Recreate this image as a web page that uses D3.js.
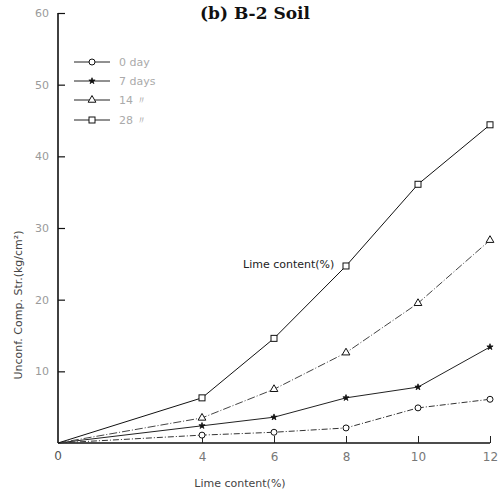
<!DOCTYPE html>
<html>
<head>
<meta charset="utf-8">
<script src="https://cdn.jsdelivr.net/npm/d3@7"></script>
<style>
  html, body { margin: 0; padding: 0; background: #fff; }
  svg { display: block; }
</style>
</head>
<body>
<svg id="chart" width="502" height="496"></svg>
<script>
// Lime content (%) on the x axis
const limeContent = [0, 4, 6, 8, 10, 12];
// Unconfined compressive strength (kg/cm²) for each curing period
const day0  = [0, 1.1, 1.5, 2.1, 4.9, 6.1];
const day7  = [0, 2.4, 3.6, 6.3, 7.8, 13.4];
const day14 = [0, 3.5, 7.5, 12.6, 19.5, 28.3];
const day28 = [0, 6.3, 14.6, 24.7, 36.1, 44.4];
const seriesNames = ["0 day", "7 days", "14 〃", "28 〃"];
const xTicks = [4, 6, 8, 10, 12];
const yTicks = [10, 20, 30, 40, 50, 60];

const svg = d3.select("#chart");
const x = d3.scaleLinear().domain([0, 12]).range([58, 490]);
const y = d3.scaleLinear().domain([0, 60]).range([443, 13]);

const series = [
  { name: seriesNames[0], values: day0,  marker: "circle",   stroke: "#333", dash: "6,2,1,2" },
  { name: seriesNames[1], values: day7,  marker: "star",     stroke: "#222", dash: null },
  { name: seriesNames[2], values: day14, marker: "triangle", stroke: "#444", dash: "8,2,1,2" },
  { name: seriesNames[3], values: day28, marker: "square",   stroke: "#111", dash: null }
];

// Axes
const yAxis = d3.axisRight(y).tickValues(yTicks).tickSize(7).tickFormat(d3.format("d"));
const gy = svg.append("g").attr("transform", `translate(${x(0)},0)`).call(yAxis);
gy.select(".domain").attr("stroke", "#111").attr("stroke-width", 1.6).attr("d", `M0,${y(0)}V${y(60)}`);
gy.selectAll(".tick line").attr("stroke", "#111").attr("stroke-width", 1.2);
gy.selectAll(".tick text")
  .attr("x", -9).attr("text-anchor", "end")
  .attr("fill", "#9a9a9a")
  .style("font-family", "'DejaVu Sans', sans-serif").style("font-size", "11px");

const xAxis = d3.axisTop(x).tickValues(xTicks).tickSize(7).tickFormat(d3.format("d"));
const gx = svg.append("g").attr("transform", `translate(0,${y(0)})`).call(xAxis);
gx.select(".domain").attr("stroke", "#111").attr("stroke-width", 1.4).attr("d", `M${x(0)},0H${x(12)}`);
gx.selectAll(".tick line").attr("stroke", "#222").attr("stroke-width", 1);
gx.selectAll(".tick text")
  .attr("y", 18).attr("dy", null)
  .attr("fill", "#777")
  .style("font-family", "'DejaVu Sans', sans-serif").style("font-size", "12px");

svg.append("text").attr("x", x(0)).attr("y", y(0) + 17).attr("text-anchor", "middle")
  .attr("fill", "#555").style("font-family", "'DejaVu Sans', sans-serif").style("font-size", "12px")
  .text("0");

// Lines
const line = d3.line().x((d, i) => x(limeContent[i])).y(d => y(d));
series.forEach(s => {
  svg.append("path").datum(s.values).attr("d", line)
    .attr("fill", "none").attr("stroke", s.stroke).attr("stroke-width", 1)
    .attr("stroke-dasharray", s.dash);
});

// Markers
function drawMarker(g, type, cx, cy) {
  if (type === "circle") {
    g.append("circle").attr("cx", cx).attr("cy", cy).attr("r", 3)
      .attr("fill", "#fff").attr("stroke", "#111").attr("stroke-width", 1);
  } else if (type === "square") {
    g.append("rect").attr("x", cx - 3).attr("y", cy - 3).attr("width", 6).attr("height", 6)
      .attr("fill", "#fff").attr("stroke", "#111").attr("stroke-width", 1);
  } else if (type === "triangle") {
    g.append("path").attr("d", d3.symbol(d3.symbolTriangle, 26)()).attr("transform", `translate(${cx},${cy})`)
      .attr("fill", "#fff").attr("stroke", "#111").attr("stroke-width", 1);
  } else {
    g.append("path").attr("d", d3.symbol(d3.symbolStar, 12)()).attr("transform", `translate(${cx},${cy})`)
      .attr("fill", "#111").attr("stroke", "#111").attr("stroke-width", 0.8);
  }
}
series.forEach(s => {
  const g = svg.append("g");
  s.values.forEach((v, i) => { if (i > 0) drawMarker(g, s.marker, x(limeContent[i]), y(v)); });
});

// Legend
const legendY = [62, 81, 100, 120];
series.forEach((s, i) => {
  const ly = legendY[i];
  svg.append("line").attr("x1", 74).attr("x2", 110).attr("y1", ly).attr("y2", ly)
    .attr("stroke", "#222").attr("stroke-width", 1);
  drawMarker(svg, s.marker, 92, ly);
  svg.append("text").attr("x", 119).attr("y", ly + 4).attr("fill", "#aaa")
    .style("font-family", "'DejaVu Sans', sans-serif").style("font-size", "11px")
    .text(s.name);
});

// Title and axis titles
svg.append("text").attr("x", 255).attr("y", 19).attr("text-anchor", "middle")
  .style("font-family", "'DejaVu Serif', serif").style("font-weight", "bold").style("font-size", "17px")
  .attr("fill", "#111").text("(b)  B-2 Soil");

svg.append("text").attr("x", 240).attr("y", 487).attr("text-anchor", "middle")
  .attr("fill", "#444").style("font-family", "'DejaVu Sans', sans-serif").style("font-size", "11px")
  .text("Lime content(%)");

svg.append("text").attr("x", 243).attr("y", 268)
  .attr("fill", "#222").style("font-family", "'DejaVu Sans', sans-serif").style("font-size", "11px")
  .text("Lime content(%)");

svg.append("text").attr("transform", "translate(22,305) rotate(-90)").attr("text-anchor", "middle")
  .attr("fill", "#444").style("font-family", "'DejaVu Sans', sans-serif").style("font-size", "11px")
  .text("Unconf. Comp. Str.(kg/cm²)");
</script>
</body>
</html>
